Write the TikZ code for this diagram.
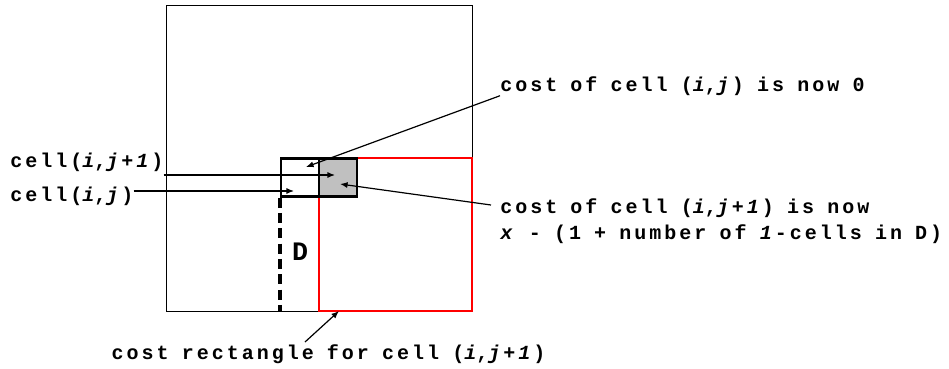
\documentclass[tikz,border=0pt]{standalone}
\usepackage{fontspec}
\usepackage{tikz}
\usetikzlibrary{arrows.meta,positioning}
\newfontfamily\costfont{Liberation Mono}[LetterSpace=15,WordSpace=0.88]
\definecolor{costred}{HTML}{FF0000}
\definecolor{costgray}{HTML}{C0C0C0}

\begin{document}
\begin{tikzpicture}[x=0.75pt,y=-0.75pt,
  cellbox/.style={draw,line width=1.6pt,minimum size=28.5pt,inner sep=0pt},
  lbl/.style={font=\costfont\bfseries\fontsize{15}{19.5}\selectfont,inner sep=0pt,anchor=west,align=left},
  arrow/.style={-{Latex[length=2mm,width=1.6mm]},line width=0.9pt}
]
\useasboundingbox (0,0) rectangle (949,368);
\node[draw,line width=0.6pt,minimum size=229.5pt,inner sep=0pt] (grid) at (319,158) {};
\node[draw=costred,line width=1.5pt,minimum size=114.75pt,inner sep=0pt] (costrect) at (395.5,234.5) {};
\node[cellbox] (cellij) at (300,177.5) {};
\node[cellbox,fill=costgray] (cellij1) at (338,177.5) {};
\draw[line width=2.4pt,dash pattern=on 7.5pt off 4pt] (cellij.south west) -- (cellij.south west |- grid.south);
\node[font=\costfont\bfseries\fontsize{20}{24}\selectfont] (dlbl) at (300,252) {D};
\node[lbl] (lblij1) at (10,162) {cell(\textit{i},\textit{j+1})};
\node[lbl] (lblij) at (10,196) {cell(\textit{i},\textit{j})};
\node[lbl] (lblzero) at (500,86) {cost of cell (\textit{i},\textit{j}) is now 0};
\node[lbl] (lblnow) at (500,221) {cost of cell (\textit{i},\textit{j+1}) is now\\\textit{x} - (1 + number of \textit{1}-cells in D)};
\node[lbl,anchor=center] (lblrect) at (328.5,354) {cost rectangle for cell (\textit{i},\textit{j+1})};
\coordinate (tipij1) at (335,175);
\coordinate (tipij) at (294,191);
\coordinate (tipzero) at (306,167);
\coordinate (tipnow) at (340,184);
\coordinate (tiprect) at (339,311);
\coordinate (tailnow) at (491,205);
\coordinate (tailrect) at (305,342);
\draw[arrow] (lblij1.east |- tipij1) -- (tipij1);
\draw[arrow] (lblij.east |- tipij) -- (tipij);
\draw[arrow] (lblzero.south west) -- (tipzero);
\draw[arrow] (tailnow) -- (tipnow);
\draw[arrow] (tailrect) -- (tiprect);
\end{tikzpicture}
\end{document}
